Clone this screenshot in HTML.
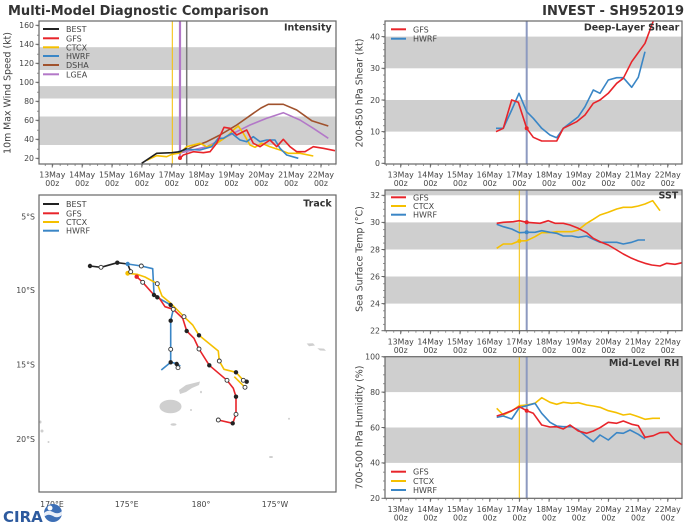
<!DOCTYPE html>
<html><head><meta charset="utf-8"><style>
html,body{margin:0;padding:0;background:#fff}
svg{display:block}
text{font-family:"DejaVu Sans","Liberation Sans",sans-serif;fill:#444}
.tk{font-size:7.8px}
.lg{font-size:8px;fill:#444}
.pt{font-size:9.5px;font-weight:bold;fill:#333}
.al{font-size:9.4px;fill:#444}
</style></head><body>
<svg width="700" height="525" viewBox="0 0 700 525" xmlns="http://www.w3.org/2000/svg">
<defs>
<pattern id="mxl" patternUnits="userSpaceOnUse" x="52.3" y="0" width="7.4625" height="10"><line x1="0.4" y1="0" x2="0.4" y2="10" stroke="#777" stroke-width="0.8"/></pattern>
<pattern id="mxr" patternUnits="userSpaceOnUse" x="400.7" y="0" width="7.4175" height="10"><line x1="0.4" y1="0" x2="0.4" y2="10" stroke="#777" stroke-width="0.8"/></pattern>
<pattern id="myi" patternUnits="userSpaceOnUse" x="0" y="158.3" width="10" height="9.5"><line x1="0" y1="0.4" x2="10" y2="0.4" stroke="#777" stroke-width="0.8"/></pattern>
<pattern id="mys" patternUnits="userSpaceOnUse" x="0" y="163.3" width="10" height="6.334"><line x1="0" y1="0.4" x2="10" y2="0.4" stroke="#777" stroke-width="0.8"/></pattern>
<pattern id="myt" patternUnits="userSpaceOnUse" x="0" y="330.7" width="10" height="6.77"><line x1="0" y1="0.4" x2="10" y2="0.4" stroke="#777" stroke-width="0.8"/></pattern>
<pattern id="myr" patternUnits="userSpaceOnUse" x="0" y="498.3" width="10" height="8.85"><line x1="0" y1="0.4" x2="10" y2="0.4" stroke="#777" stroke-width="0.8"/></pattern>
</defs>
<rect width="700" height="525" fill="#fff"/>
<text x="8" y="15" style="font-size:13px;font-weight:bold;fill:#333">Multi-Model Diagnostic Comparison</text>
<text x="684" y="15" text-anchor="end" style="font-size:13px;font-weight:bold;fill:#333">INVEST - SH952019</text>

<!-- ========== INTENSITY ========== -->
<g>
<rect x="39" y="47.2" width="297" height="22.8" fill="#cfcfcf"/>
<rect x="39" y="86.1" width="297" height="12.4" fill="#cfcfcf"/>
<rect x="39" y="116.5" width="297" height="28.5" fill="#cfcfcf"/>
<line x1="172.3" y1="21" x2="172.3" y2="164" stroke="#f5c000" stroke-width="1"/>
<line x1="180" y1="21" x2="180" y2="158" stroke="#b378c8" stroke-width="2.2"/>
<line x1="186.7" y1="21" x2="186.7" y2="164" stroke="#777" stroke-width="1.5"/>
<g fill="none" stroke-width="1.6" stroke-linejoin="round">
<polyline stroke="#a0522d" points="178.3,152.7 193.3,146.7 206.7,141.7 220,135 236.7,125 253.3,113.3 261,108 268.3,104.3 283.3,104.3 296.7,110 311.7,120.7 328.3,126"/>
<polyline stroke="#b378c8" points="178.3,153.3 206.7,146.7 226.7,136.7 250,125 266.7,118.3 283.3,112.7 300,120 313.3,128.3 328.3,138.3"/>
<polyline stroke="#f5c000" points="146.7,160.3 156.7,155.7 166.7,156.7 172,154.3 180,153 186.7,146.7 200,143.3 206.7,146.7 216.7,143.3 226.7,136.7 233.3,130 238.3,126 243.3,133.3 250,145 255,147.3 261.7,143.3 270,146.7 280,150 288.3,153.3 300,153.3 313.3,156"/>
<polyline stroke="#3a86c6" points="178.3,151.7 186.7,149.3 200,150 211.7,146.7 218.3,138.3 223.3,138.3 231.7,133.3 240,140 246.7,141.7 253.3,136.7 260,141.7 266.7,140 275,140 280,148.3 286.7,155 298.3,158.3"/>
<polyline stroke="#e8242a" points="180,158.3 183.3,155 193.3,151.7 203.3,152.7 210,151.7 216.7,143.3 224,127.3 230,128.3 236.7,135 246.7,130 253.3,143.3 260,146.7 265,143.3 270,140 276.7,146.7 283.3,139.3 290,146.7 296.7,151.7 305,151.7 313.3,146.7 323.3,148.3 335,150.7"/>
<polyline stroke="#222" points="141.7,163.3 156.7,153.3 171.7,152.7 180,151.7 186.7,148.3"/>
</g>
<circle cx="180" cy="158" r="2" fill="#e8242a"/>
<rect x="39" y="21" width="297" height="143" fill="none" stroke="#666" stroke-width="1.2"/>
<rect x="39" y="164" width="297" height="2" fill="url(#mxl)"/>
<rect x="37" y="21" width="2" height="143" fill="url(#myi)"/>
<g stroke-width="2">
<line x1="43" y1="29" x2="59" y2="29" stroke="#222"/>
<line x1="43" y1="38.3" x2="59" y2="38.3" stroke="#e8242a"/>
<line x1="43" y1="47.3" x2="59" y2="47.3" stroke="#f5c000"/>
<line x1="43" y1="56" x2="59" y2="56" stroke="#3a86c6"/>
<line x1="43" y1="65" x2="59" y2="65" stroke="#a0522d"/>
<line x1="43" y1="74.3" x2="59" y2="74.3" stroke="#b378c8"/>
</g>
<text class="lg" x="66" y="32">BEST</text>
<text class="lg" x="66" y="41.3">GFS</text>
<text class="lg" x="66" y="50.3">CTCX</text>
<text class="lg" x="66" y="59">HWRF</text>
<text class="lg" x="66" y="68">DSHA</text>
<text class="lg" x="66" y="77.3">LGEA</text>
<text class="pt" x="331.7" y="30.5" text-anchor="end">Intensity</text>
<g stroke="#666" stroke-width="1">
<line x1="35.5" y1="158.3" x2="39" y2="158.3"/><line x1="35.5" y1="139.3" x2="39" y2="139.3"/>
<line x1="35.5" y1="120.3" x2="39" y2="120.3"/><line x1="35.5" y1="101.3" x2="39" y2="101.3"/>
<line x1="35.5" y1="82.3" x2="39" y2="82.3"/><line x1="35.5" y1="63.3" x2="39" y2="63.3"/>
<line x1="35.5" y1="44.3" x2="39" y2="44.3"/><line x1="35.5" y1="25.3" x2="39" y2="25.3"/>
</g>
<g class="tk" text-anchor="end">
<text x="34" y="161">20</text><text x="34" y="142">40</text><text x="34" y="123">60</text>
<text x="34" y="104">80</text><text x="34" y="85">100</text><text x="34" y="66">120</text>
<text x="34" y="47">140</text><text x="34" y="28">160</text>
</g>
<text class="al" transform="translate(10.5,93) rotate(-90)" text-anchor="middle">10m Max Wind Speed (kt)</text>
<g stroke="#666" stroke-width="1">
<line x1="52.3" y1="164" x2="52.3" y2="167.5"/><line x1="82.15" y1="164" x2="82.15" y2="167.5"/>
<line x1="112" y1="164" x2="112" y2="167.5"/><line x1="141.85" y1="164" x2="141.85" y2="167.5"/>
<line x1="171.7" y1="164" x2="171.7" y2="167.5"/><line x1="201.55" y1="164" x2="201.55" y2="167.5"/>
<line x1="231.4" y1="164" x2="231.4" y2="167.5"/><line x1="261.25" y1="164" x2="261.25" y2="167.5"/>
<line x1="291.1" y1="164" x2="291.1" y2="167.5"/><line x1="320.95" y1="164" x2="320.95" y2="167.5"/>
</g>
<g class="tk" text-anchor="middle">
<text x="52.3" y="177.7">13May</text><text x="82.15" y="177.7">14May</text><text x="112" y="177.7">15May</text>
<text x="141.85" y="177.7">16May</text><text x="171.7" y="177.7">17May</text><text x="201.55" y="177.7">18May</text>
<text x="231.4" y="177.7">19May</text><text x="261.25" y="177.7">20May</text><text x="291.1" y="177.7">21May</text>
<text x="320.95" y="177.7">22May</text>
<text x="52.3" y="186">00z</text><text x="82.15" y="186">00z</text><text x="112" y="186">00z</text>
<text x="141.85" y="186">00z</text><text x="171.7" y="186">00z</text><text x="201.55" y="186">00z</text>
<text x="231.4" y="186">00z</text><text x="261.25" y="186">00z</text><text x="291.1" y="186">00z</text>
<text x="320.95" y="186">00z</text>
</g>
</g>

<!-- ========== TRACK ========== -->
<g>
<g fill="#cfcfcf">
<path d="M179,390 L186,385 L194,383 L200,381.5 L199,385 L192,388 L186,392 L180,394 Z"/>
<ellipse cx="170.5" cy="406.5" rx="11" ry="6.8"/>
<ellipse cx="173.5" cy="424.5" rx="3" ry="1.3"/>
<ellipse cx="191" cy="410" rx="1" ry="1"/>
<ellipse cx="201" cy="392" rx="1" ry="1.3"/>
<path d="M306.7,343.5 L313,343.3 L315,345.5 L309,346.3 Z"/>
<path d="M317.3,348.2 L324,348.6 L326,350.8 L320,350.5 Z"/>
<ellipse cx="40.5" cy="422" rx="1" ry="1.5"/>
<ellipse cx="42" cy="431" rx="1.5" ry="1.5"/>
<ellipse cx="48.5" cy="442" rx="1" ry="1"/>
<ellipse cx="271" cy="457" rx="2" ry="1"/>
<ellipse cx="289" cy="418.7" rx="1" ry="1"/>
</g>
<g fill="none" stroke-width="1.6" stroke-linejoin="round">
<polyline stroke="#222" points="90,266 101,267.3 117.3,262.7 127.7,264 130.7,271.7"/>
<polyline stroke="#3a86c6" points="127.7,264 141.3,266 152.7,268.7 154,294 157.3,297.3 170.7,305 173.3,309.3 170.7,320.7 170.7,349.3 170.7,362.3 176.7,363.5 180.3,366"/>
<polyline stroke="#3a86c6" points="170.7,362.3 161.3,370"/>
<polyline stroke="#f5c000" points="127.7,273.3 137,274.3 145,277 157.3,283.7 162,296 170.7,303.3 184,316.7 192.7,325 199,335.3 218.3,351 219.3,361 224,369.3 236,372.3 243.3,380.3 246.7,381.7"/>
<polyline stroke="#f5c000" points="234.3,376.7 245,387.3"/>
<polyline stroke="#e8242a" points="136.7,276.7 142.7,282.3 154,295 158.3,296.7 165,306.7 173.3,309.3 182.7,318.3 186.7,331 194,338.3 199,349 209.3,365.3 227,380.3 233.3,388.3 236,396.7 236,414.3 232.7,423.3 218.3,420"/>
</g>
<g fill="#222">
<circle cx="90" cy="266" r="2.2"/><circle cx="117.3" cy="262.7" r="2.2"/>
<circle cx="154" cy="295" r="2.2"/><circle cx="157.3" cy="297.3" r="2.2"/>
<circle cx="170.7" cy="305" r="2.2"/><circle cx="170.7" cy="320.7" r="2.2"/>
<circle cx="186.7" cy="331" r="2.2"/><circle cx="199" cy="335.3" r="2.2"/>
<circle cx="209.3" cy="365.3" r="2.2"/><circle cx="170.7" cy="362.3" r="2.2"/>
<circle cx="176.7" cy="364" r="2.2"/><circle cx="236" cy="372.3" r="2.2"/>
<circle cx="246.7" cy="381.7" r="2.2"/><circle cx="236" cy="396.7" r="2.2"/>
<circle cx="232.7" cy="423.3" r="2.2"/>
</g>
<circle cx="127.7" cy="264" r="2.2" fill="#3a86c6"/>
<circle cx="127.7" cy="273.3" r="2.4" fill="#f5c000"/>
<circle cx="136.7" cy="276.7" r="2.2" fill="#e8242a"/>
<g fill="#fff" stroke="#333" stroke-width="0.9">
<circle cx="101" cy="267.3" r="2"/><circle cx="130.7" cy="271.7" r="2"/>
<circle cx="141.3" cy="266" r="2"/><circle cx="142.7" cy="282.3" r="2"/>
<circle cx="157.3" cy="283.7" r="2"/><circle cx="173.3" cy="309.3" r="2"/>
<circle cx="184" cy="316.7" r="2"/><circle cx="199" cy="349" r="2"/>
<circle cx="170.7" cy="349.3" r="2"/><circle cx="178" cy="367.7" r="2"/>
<circle cx="219.3" cy="361" r="2"/><circle cx="227" cy="380.3" r="2"/>
<circle cx="243.3" cy="380.3" r="2"/><circle cx="245" cy="387.3" r="2"/>
<circle cx="236" cy="414.3" r="2"/><circle cx="218.3" cy="420" r="2"/>
</g>
<rect x="39" y="195" width="297" height="297" fill="none" stroke="#666" stroke-width="1.2"/>
<g stroke-width="2">
<line x1="43" y1="204" x2="59" y2="204" stroke="#222"/>
<line x1="43" y1="213.3" x2="59" y2="213.3" stroke="#e8242a"/>
<line x1="43" y1="222" x2="59" y2="222" stroke="#f5c000"/>
<line x1="43" y1="230.7" x2="59" y2="230.7" stroke="#3a86c6"/>
</g>
<text class="lg" x="66" y="207">BEST</text>
<text class="lg" x="66" y="216.3">GFS</text>
<text class="lg" x="66" y="225">CTCX</text>
<text class="lg" x="66" y="233.7">HWRF</text>
<text class="pt" x="331.7" y="206.5" text-anchor="end">Track</text>
<g class="tk" text-anchor="end">
<text x="35" y="219.5">5°S</text><text x="35" y="292.8">10°S</text>
<text x="35" y="367.3">15°S</text><text x="35" y="441.8">20°S</text>
</g>
<g class="tk" text-anchor="middle">
<text x="52" y="507">170°E</text><text x="126.7" y="507">175°E</text>
<text x="201" y="507">180°</text><text x="275" y="507">175°W</text>
</g>
</g>

<!-- CIRA logo -->
<g>
<text x="3" y="522" style="font-size:15px;font-weight:bold;fill:#2d5a9e;font-family:'DejaVu Sans',sans-serif">CIRA</text>
<circle cx="53" cy="513" r="9" fill="#3d6fb6"/>
<path d="M44,513 Q48,509 53,512 Q58,515 62,511 L62,515 Q57,519 53,516 Q48,513 44,517 Z" fill="#e8eef8"/>
<circle cx="50" cy="508" r="2.5" fill="#fff"/>
</g>

<!-- ========== SHEAR ========== -->
<g>
<rect x="385" y="100" width="297" height="31.6" fill="#cfcfcf"/>
<rect x="385" y="36.6" width="297" height="31.7" fill="#cfcfcf"/>
<line x1="526.7" y1="21" x2="526.7" y2="164" stroke="#8d9ac0" stroke-width="2"/>
<g fill="none" stroke-width="1.6" stroke-linejoin="round">
<polyline stroke="#3a86c6" points="496,128.3 503.3,128.3 511.7,110 519,93.3 526.7,111.7 533.3,118.3 541.7,128.3 550,135 556.7,137.7 563.3,128.3 578.3,116.7 585,106.7 593.3,90 600,93.3 608.3,80 616.7,77.7 623.3,77.7 631.7,87.3 638.3,77.3 645,51.7"/>
<polyline stroke="#e8242a" points="496,131.7 503.3,128.3 511.7,100 518.3,102.3 526.7,128.3 533.3,137.3 541.7,141 556.7,141 563.3,128.3 576.7,121.7 585,115 593.3,103.3 600,100 608.3,93.3 616.7,83.3 623.3,78.3 631.7,61.7 645,43.3 653.3,21"/>
</g>
<circle cx="526.7" cy="128.3" r="2" fill="#e8242a"/>
<rect x="385" y="21" width="297" height="143" fill="none" stroke="#666" stroke-width="1.2"/>
<rect x="385" y="164" width="297" height="2" fill="url(#mxr)"/>
<rect x="383" y="21" width="2" height="143" fill="url(#mys)"/>
<g stroke-width="2">
<line x1="391" y1="29.3" x2="406" y2="29.3" stroke="#e8242a"/>
<line x1="391" y1="38.7" x2="406" y2="38.7" stroke="#3a86c6"/>
</g>
<text class="lg" x="413" y="32.3">GFS</text>
<text class="lg" x="413" y="41.7">HWRF</text>
<text class="pt" x="679.3" y="30.5" text-anchor="end">Deep-Layer Shear</text>
<g stroke="#666" stroke-width="1">
<line x1="381.5" y1="163.3" x2="385" y2="163.3"/><line x1="381.5" y1="131.6" x2="385" y2="131.6"/>
<line x1="381.5" y1="100" x2="385" y2="100"/><line x1="381.5" y1="68.3" x2="385" y2="68.3"/>
<line x1="381.5" y1="36.6" x2="385" y2="36.6"/>
</g>
<g class="tk" text-anchor="end">
<text x="380" y="166">0</text><text x="380" y="134.4">10</text><text x="380" y="102.8">20</text>
<text x="380" y="71">30</text><text x="380" y="39.4">40</text>
</g>
<text class="al" transform="translate(362.5,93) rotate(-90)" text-anchor="middle">200-850 hPa Shear (kt)</text>
<g stroke="#666" stroke-width="1">
<line x1="400.7" y1="164" x2="400.7" y2="167.5"/><line x1="430.37" y1="164" x2="430.37" y2="167.5"/>
<line x1="460.04" y1="164" x2="460.04" y2="167.5"/><line x1="489.71" y1="164" x2="489.71" y2="167.5"/>
<line x1="519.38" y1="164" x2="519.38" y2="167.5"/><line x1="549.05" y1="164" x2="549.05" y2="167.5"/>
<line x1="578.72" y1="164" x2="578.72" y2="167.5"/><line x1="608.39" y1="164" x2="608.39" y2="167.5"/>
<line x1="638.06" y1="164" x2="638.06" y2="167.5"/><line x1="667.73" y1="164" x2="667.73" y2="167.5"/>
</g>
<g class="tk" text-anchor="middle">
<text x="400.7" y="177.7">13May</text><text x="430.37" y="177.7">14May</text><text x="460.04" y="177.7">15May</text>
<text x="489.71" y="177.7">16May</text><text x="519.38" y="177.7">17May</text><text x="549.05" y="177.7">18May</text>
<text x="578.72" y="177.7">19May</text><text x="608.39" y="177.7">20May</text><text x="638.06" y="177.7">21May</text>
<text x="667.73" y="177.7">22May</text>
<text x="400.7" y="186">00z</text><text x="430.37" y="186">00z</text><text x="460.04" y="186">00z</text>
<text x="489.71" y="186">00z</text><text x="519.38" y="186">00z</text><text x="549.05" y="186">00z</text>
<text x="578.72" y="186">00z</text><text x="608.39" y="186">00z</text><text x="638.06" y="186">00z</text>
<text x="667.73" y="186">00z</text>
</g>
</g>

<!-- ========== SST ========== -->
<g>
<rect x="385" y="276.5" width="297" height="27.1" fill="#cfcfcf"/>
<rect x="385" y="222.4" width="297" height="27.1" fill="#cfcfcf"/>
<rect x="385" y="190" width="297" height="5.3" fill="#cfcfcf"/>
<line x1="519.3" y1="190" x2="519.3" y2="331" stroke="#f5c000" stroke-width="1"/>
<line x1="526.7" y1="190" x2="526.7" y2="331" stroke="#8d9ac0" stroke-width="2"/>
<g fill="none" stroke-width="1.6" stroke-linejoin="round">
<polyline stroke="#f5c000" points="496.7,248.3 503.3,244 511.7,244 519.3,241 526.7,240.7 535,236.7 541.7,232.7 550,232.7 556.7,231.7 571.7,231.7 578.3,230 586.7,223.3 593.3,219.3 600,215 608.3,212.3 616.7,209 623.3,207.3 631.7,207.3 638.3,206 645,204 652.7,200.7 660,210.7"/>
<polyline stroke="#3a86c6" points="496.7,224.3 503.3,226.7 511.7,229 519.3,232.7 526.7,232.3 535,232.3 541.7,230.7 550,232.3 556.7,233.3 563.3,236 571.7,236 578.3,237.3 586.7,236 593.3,239.3 600,242.3 608.3,242.3 616.7,242.3 623.3,244 631.7,242.3 638.3,240 645,240"/>
<polyline stroke="#e8242a" points="496.7,223.3 503.3,222.3 513.3,221.7 519.3,220.7 526.7,222.3 540,223.3 548.3,220.7 555,223.3 563.3,223.3 570,225 578.3,228.3 586.7,232.7 593.3,238.3 600,241.7 608.3,245 616.7,250 623.3,254 631.7,258.3 638.3,261 645,263.3 651.7,265 660,266 666.7,263.3 675,264.3 682.3,262.7"/>
</g>
<circle cx="526.7" cy="222.3" r="2" fill="#e8242a"/>
<circle cx="519.3" cy="241" r="2" fill="#f5c000"/>
<circle cx="526.7" cy="232.3" r="2" fill="#3a86c6"/>
<rect x="385" y="190" width="297" height="140.7" fill="none" stroke="#666" stroke-width="1.2"/>
<rect x="385" y="330.7" width="297" height="2" fill="url(#mxr)"/>
<rect x="383" y="190" width="2" height="140.7" fill="url(#myt)"/>
<g stroke-width="2">
<line x1="391" y1="197.3" x2="406" y2="197.3" stroke="#e8242a"/>
<line x1="391" y1="206" x2="406" y2="206" stroke="#f5c000"/>
<line x1="391" y1="214.7" x2="406" y2="214.7" stroke="#3a86c6"/>
</g>
<text class="lg" x="413" y="200.3">GFS</text>
<text class="lg" x="413" y="209">CTCX</text>
<text class="lg" x="413" y="217.7">HWRF</text>
<text class="pt" x="678.3" y="198.5" text-anchor="end">SST</text>
<g stroke="#666" stroke-width="1">
<line x1="381.5" y1="330.7" x2="385" y2="330.7"/><line x1="381.5" y1="303.6" x2="385" y2="303.6"/>
<line x1="381.5" y1="276.5" x2="385" y2="276.5"/><line x1="381.5" y1="249.5" x2="385" y2="249.5"/>
<line x1="381.5" y1="222.4" x2="385" y2="222.4"/><line x1="381.5" y1="195.3" x2="385" y2="195.3"/>
</g>
<g class="tk" text-anchor="end">
<text x="380" y="333.5">22</text><text x="380" y="306.4">24</text><text x="380" y="279.3">26</text>
<text x="380" y="252.3">28</text><text x="380" y="225.2">30</text><text x="380" y="198.1">32</text>
</g>
<text class="al" transform="translate(362.5,259) rotate(-90)" text-anchor="middle">Sea Surface Temp (°C)</text>
<g stroke="#666" stroke-width="1">
<line x1="400.7" y1="330.7" x2="400.7" y2="334.2"/><line x1="430.37" y1="330.7" x2="430.37" y2="334.2"/>
<line x1="460.04" y1="330.7" x2="460.04" y2="334.2"/><line x1="489.71" y1="330.7" x2="489.71" y2="334.2"/>
<line x1="519.38" y1="330.7" x2="519.38" y2="334.2"/><line x1="549.05" y1="330.7" x2="549.05" y2="334.2"/>
<line x1="578.72" y1="330.7" x2="578.72" y2="334.2"/><line x1="608.39" y1="330.7" x2="608.39" y2="334.2"/>
<line x1="638.06" y1="330.7" x2="638.06" y2="334.2"/><line x1="667.73" y1="330.7" x2="667.73" y2="334.2"/>
</g>
<g class="tk" text-anchor="middle">
<text x="400.7" y="344.4">13May</text><text x="430.37" y="344.4">14May</text><text x="460.04" y="344.4">15May</text>
<text x="489.71" y="344.4">16May</text><text x="519.38" y="344.4">17May</text><text x="549.05" y="344.4">18May</text>
<text x="578.72" y="344.4">19May</text><text x="608.39" y="344.4">20May</text><text x="638.06" y="344.4">21May</text>
<text x="667.73" y="344.4">22May</text>
<text x="400.7" y="352.9">00z</text><text x="430.37" y="352.9">00z</text><text x="460.04" y="352.9">00z</text>
<text x="489.71" y="352.9">00z</text><text x="519.38" y="352.9">00z</text><text x="549.05" y="352.9">00z</text>
<text x="578.72" y="352.9">00z</text><text x="608.39" y="352.9">00z</text><text x="638.06" y="352.9">00z</text>
<text x="667.73" y="352.9">00z</text>
</g>
</g>

<!-- ========== RH ========== -->
<g>
<rect x="385" y="427.5" width="297" height="35.4" fill="#cfcfcf"/>
<rect x="385" y="356.7" width="297" height="35.4" fill="#cfcfcf"/>
<line x1="519.3" y1="357" x2="519.3" y2="498" stroke="#f5c000" stroke-width="1"/>
<line x1="526.7" y1="357" x2="526.7" y2="498" stroke="#8d9ac0" stroke-width="2"/>
<g fill="none" stroke-width="1.6" stroke-linejoin="round">
<polyline stroke="#f5c000" points="496.7,408.3 503.3,415 511.7,411 519.3,405.7 526.7,405 535,403.3 541.7,397.7 550,402.3 556.7,404.3 563.3,402.3 571.7,403.3 578.3,402.7 586.7,405 593.3,406 600,407.3 608.3,410.7 616.7,412.7 623.3,415 630,414 638.3,416.7 645,419.3 652.7,418.3 660,418.3"/>
<polyline stroke="#3a86c6" points="496.7,417.3 503.3,416 511.7,419 519.3,407.7 526.7,405.7 535,403.3 541.7,413.3 550,422.3 556.7,426 563.3,426.7 571.7,426.7 578.3,430 586.7,436.7 593.3,441.7 600,435 608.3,440 616.7,432.7 623.3,433.3 630,430 638.3,434.3 645,439"/>
<polyline stroke="#e8242a" points="496.7,416 503.3,414 511.7,410.7 519.3,406.7 526.7,410.7 533.3,413.3 541.7,425 550,427 556.7,426.7 563.3,429 570,425 578.3,431 586.7,433.3 593.3,431 600,427.7 608.3,422.3 616.7,423.3 623.3,421 631.7,424.3 638.3,425.7 645,437.3 653.3,435.7 660,432.7 668.3,432.3 675,440 682.3,445"/>
</g>
<circle cx="526.7" cy="410.7" r="2" fill="#e8242a"/>
<rect x="385" y="356.7" width="297" height="141.6" fill="none" stroke="#666" stroke-width="1.2"/>
<rect x="385" y="498.3" width="297" height="2" fill="url(#mxr)"/>
<rect x="383" y="356.7" width="2" height="141.6" fill="url(#myr)"/>
<g stroke-width="2">
<line x1="391" y1="471.7" x2="406" y2="471.7" stroke="#e8242a"/>
<line x1="391" y1="481" x2="406" y2="481" stroke="#f5c000"/>
<line x1="391" y1="490" x2="406" y2="490" stroke="#3a86c6"/>
</g>
<text class="lg" x="413" y="474.7">GFS</text>
<text class="lg" x="413" y="484">CTCX</text>
<text class="lg" x="413" y="493">HWRF</text>
<text class="pt" x="679.3" y="366" text-anchor="end">Mid-Level RH</text>
<g stroke="#666" stroke-width="1">
<line x1="381.5" y1="498.3" x2="385" y2="498.3"/><line x1="381.5" y1="462.9" x2="385" y2="462.9"/>
<line x1="381.5" y1="427.5" x2="385" y2="427.5"/><line x1="381.5" y1="392.1" x2="385" y2="392.1"/>
<line x1="381.5" y1="356.7" x2="385" y2="356.7"/>
</g>
<g class="tk" text-anchor="end">
<text x="380" y="501.1">20</text><text x="380" y="465.7">40</text><text x="380" y="430.3">60</text>
<text x="380" y="394.9">80</text><text x="380" y="359.5">100</text>
</g>
<text class="al" transform="translate(362.5,427.5) rotate(-90)" text-anchor="middle">700-500 hPa Humidity (%)</text>
<g stroke="#666" stroke-width="1">
<line x1="400.7" y1="498.3" x2="400.7" y2="501.8"/><line x1="430.37" y1="498.3" x2="430.37" y2="501.8"/>
<line x1="460.04" y1="498.3" x2="460.04" y2="501.8"/><line x1="489.71" y1="498.3" x2="489.71" y2="501.8"/>
<line x1="519.38" y1="498.3" x2="519.38" y2="501.8"/><line x1="549.05" y1="498.3" x2="549.05" y2="501.8"/>
<line x1="578.72" y1="498.3" x2="578.72" y2="501.8"/><line x1="608.39" y1="498.3" x2="608.39" y2="501.8"/>
<line x1="638.06" y1="498.3" x2="638.06" y2="501.8"/><line x1="667.73" y1="498.3" x2="667.73" y2="501.8"/>
</g>
<g class="tk" text-anchor="middle">
<text x="400.7" y="512">13May</text><text x="430.37" y="512">14May</text><text x="460.04" y="512">15May</text>
<text x="489.71" y="512">16May</text><text x="519.38" y="512">17May</text><text x="549.05" y="512">18May</text>
<text x="578.72" y="512">19May</text><text x="608.39" y="512">20May</text><text x="638.06" y="512">21May</text>
<text x="667.73" y="512">22May</text>
<text x="400.7" y="520.5">00z</text><text x="430.37" y="520.5">00z</text><text x="460.04" y="520.5">00z</text>
<text x="489.71" y="520.5">00z</text><text x="519.38" y="520.5">00z</text><text x="549.05" y="520.5">00z</text>
<text x="578.72" y="520.5">00z</text><text x="608.39" y="520.5">00z</text><text x="638.06" y="520.5">00z</text>
<text x="667.73" y="520.5">00z</text>
</g>
</g>
</svg>
</body></html>
